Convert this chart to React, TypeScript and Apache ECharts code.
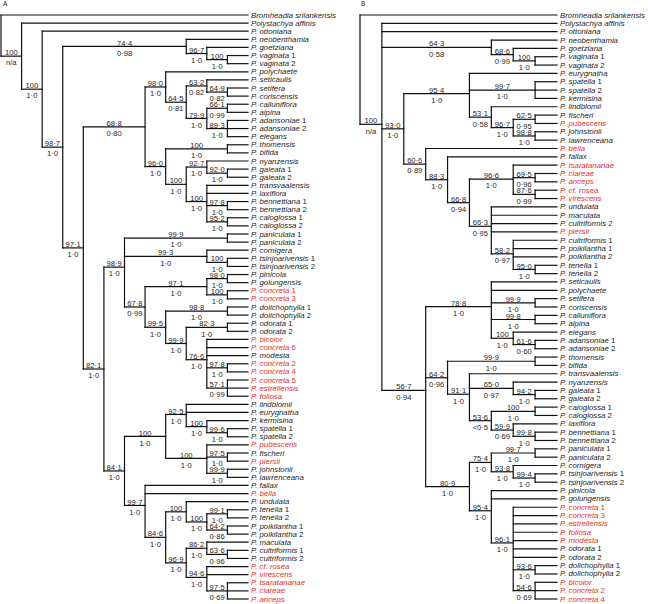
import React, { useEffect, useRef } from "react";
import * as echarts from "echarts";

// ---- DATA ----
// Tree A topology (Newick-like), internal node labels = "support/posterior"
const treeA_A688 =
  "((P. polychaete,((P. seticaulis,(P. setifera,P. coriscensis)64·9/0·82)63·2/0·82,((P. calluniflora,P. alpina)66·1/0·99,(P. adansoniae 1,P. adansoniae 2,P. elegans)89·3/1·0)79·9/1·0)64·5/0·81)98·0/1·0,((P. thomensis,P. bifida)100/1·0,((P. nyanzensis,(P. galeata 1,P. galeata 2)92·0/1·0)92·7/1·0,(P. transvaalensis,P. laxiflora,(P. bennettiana 1,P. bennettiana 2)97·8/1·0,(P. caloglossa 1,P. caloglossa 2)95·2/1·0)100/1·0)100/1·0)96·0/1·0)68·8/0·80";
const treeA_A989 =
  "((P. paniculata 1,P. paniculata 2)99·9/1·0,(P. cornigera,(P. tsinjoarivensis 1,P. tsinjoarivensis 2)100/1·0)99·3/1·0,(((P. pinicola,P. golungensis)98·0/1·0,(P. concreta 1,P. concreta 3)100/1·0)97·1/1·0,((P. dolichophylla 1,P. dolichophylla 2)98·8/1·0,((P. odorata 1,P. odorata 2)82·3/1·0,(P. bicolor,P. concreta 6,P. modesta,(P. concreta 2,P. concreta 4)97·8/1·0,(P. concreta 5,P. estrellensis,P. foliosa)57·1/0·99)76·6/1·0)99·9/1·0)99·5/1·0)67·8/0·99)98·9/1·0";
const treeA_A841 =
  "(((P. lindblomii,P. eurygnatha,(P. kermisina,(P. spatella 1,P. spatella 2)99·6/1·0)100/1·0)92·5/1·0,(P. pubescens,(P. fischeri,P. piersii)97·5/1·0,(P. johnstonii,P. lawrenceana)99·9/1·0)100/1·0)100/1·0,(P. fallax,P. bella,((P. undulata,((P. tenella 1,P. tenella 2)99·1/1·0,(P. poikilantha 1,P. poikilantha 2)64·2/0·86)100/1·0)100/1·0,((P. maculata,(P. cultriformis 1,P. cultriformis 2)63·6/0·96)86·2/1·0,(P. cf. rosea,P. virescens,(P. tsaratananae,P. clareae,P. anceps)97·5/0·69)94·6/1·0)96·9/1·0)84·6/1·0)99·7/1·0)84·1/1·0";
const treeA =
  "(Bromheadia srilankensis,(Polystachya affinis,(P. ottoniana,((P. neobenthamia,(P. goetziana,(P. vaginata 1,P. vaginata 2)100/1·0)96·7/1·0)74·4/0·98,(" +
  treeA_A688 +
  ",(" +
  treeA_A989 +
  "," +
  treeA_A841 +
  ")82·1/1·0)97·1/1·0)98·7/1·0)100/1·0)100/n/a)";

// Tree B topology
const treeB_B954 =
  "(P. eurygnatha,(P. spatella 1,P. spatella 2,P. kermisina)99·7/1·0,(P. lindblomii,((P. fischeri,P. pubescens)62·5/0·95,(P. johnstonii,P. lawrenceana)98·8/1·0)96·7/1·0)53·1/0·58)95·4/1·0";
const treeB_B606 =
  "(P. bella,(P. fallax,((P. tsaratananae,(P. clareae,P. anceps)69·5/0·96,(P. cf. rosea,P. virescens)87·6/0·99)96·6/1·0,(P. undulata,P. maculata,P. cultriformis 2,P. piersii,(P. cultriformis 1,P. poikilantha 1,P. poikilantha 2,(P. tenella 1,P. tenella 2)95·0/1·0)58·2/0·97)66·3/0·95)66·8/0·94)88·3/1·0)60·6/0·89";
const treeB_B567 =
  "((P. seticaulis,P. polychaete,(P. setifera,P. coriscensis)99·9/1·0,(P. calluniflora,P. alpina)99·8/1·0,(P. elegans,(P. adansoniae 1,P. adansoniae 2)61·6/0·60)100/1·0)78·8/1·0,((P. thomensis,P. bifida)99·9/1·0,(P. transvaalensis,(P. nyanzensis,(P. galeata 1,P. galeata 2)94·2/1·0)65·0/0·97,((P. caloglossa 1,P. caloglossa 2)100/1·0,(P. laxiflora,(P. bennettiana 1,P. bennettiana 2)99·8/1·0)59·9/0·69)53·6/<0·5)91·1/1·0)64·2/0·96,(((P. paniculata 1,P. paniculata 2)99·7/1·0,(P. cornigera,(P. tsinjoarivensis 1,P. tsinjoarivensis 2)99·4/1·0)93·8/1·0)75·4/1·0,(P. pinicola,P. golungensis,(P. concreta 1,P. concreta 3,P. estrellensis,P. foliosa,P. modesta,P. odorata 1,P. odorata 2,(P. dolichophylla 1,P. dolichophylla 2)93·6/1·0,(P. bicolor,P. concreta 2,P. concreta 4)54·6/0·69)96·1/1·0)95·4/1·0)80·9/1·0)56·7/0·94";
const treeB =
  "(Bromheadia srilankensis,(Polystachya affinis,P. ottoniana,(P. neobenthamia,(P. goetziana,(P. vaginata 1,P. vaginata 2)100/1·0)68·6/0·99)64·3/0·58,(" +
  treeB_B954 +
  "," +
  treeB_B606 +
  ")93·0/1·0," +
  treeB_B567 +
  ")100/n/a)";

const redA = [
  "P. concreta 1", "P. concreta 3", "P. bicolor", "P. concreta 6", "P. concreta 2",
  "P. concreta 4", "P. concreta 5", "P. estrellensis", "P. foliosa", "P. pubescens",
  "P. piersii", "P. bella", "P. cf. rosea", "P. virescens", "P. tsaratananae",
  "P. clareae", "P. anceps",
];
const redB = [
  "P. pubescens", "P. bella", "P. tsaratananae", "P. clareae", "P. anceps",
  "P. cf. rosea", "P. virescens", "P. piersii", "P. concreta 1", "P. concreta 3",
  "P. estrellensis", "P. foliosa", "P. modesta", "P. bicolor", "P. concreta 2",
  "P. concreta 4",
];
const panelLabels = ["A", "B"];

// ---- STYLE ----
const FONT = "'Liberation Sans', Arial, Helvetica, sans-serif";
const FS = 7.8;
const NFS = 7.6;
const LINE = "#111111";
const TXT = "#1e1e1e";
const RED = "#e6302d";

type TNode = {
  name: string;
  label: string;
  children: TNode[];
  parent?: TNode;
  x: number;
  y: number;
  h: number;
};

function parseTree(s: string): TNode {
  let i = 0;
  const readName = () => {
    const st = i;
    while (i < s.length && ",()".indexOf(s[i]) < 0) i++;
    return s.slice(st, i).trim();
  };
  const node = (): TNode => {
    if (s[i] === "(") {
      i++;
      const children: TNode[] = [node()];
      while (s[i] === ",") {
        i++;
        children.push(node());
      }
      i++;
      const label = readName();
      const n: TNode = { name: "", label, children, x: 0, y: 0, h: 0 };
      children.forEach((c) => (c.parent = n));
      return n;
    }
    return { name: readName(), label: "", children: [], x: 0, y: 0, h: 0 };
  };
  return node();
}

function layoutTree(root: TNode) {
  const nodes: TNode[] = [];
  let leaf = 0;
  const rec = (n: TNode) => {
    nodes.push(n);
    if (!n.children.length) {
      n.y = leaf++;
      n.h = 0;
    } else {
      n.children.forEach(rec);
      n.y = n.children.reduce((a, c) => a + c.y, 0) / n.children.length;
      n.h = Math.max(...n.children.map((c) => c.h)) + 1;
    }
  };
  rec(root);
  nodes.forEach((n) => (n.x = root.h - n.h));
  return { nodes, H: root.h, nLeaves: leaf };
}

function leafRich(name: string, color: string) {
  const m = name.match(/^(.*) (\d+)$/);
  const base = { fontSize: FS, fontFamily: FONT, fill: color, lineHeight: 7 };
  if (m) {
    return {
      text: `{i|${m[1]}}{n| ${m[2]}}`,
      rich: {
        i: { ...base, fontStyle: "italic" },
        n: { ...base, fontStyle: "normal" },
      },
    };
  }
  return {
    text: `{i|${name}}`,
    rich: { i: { ...base, fontStyle: "italic" } },
  };
}

function makeSeries(treeStr: string, reds: string[], gridIndex: number) {
  const root = parseTree(treeStr);
  const { nodes, H, nLeaves } = layoutTree(root);
  const data = nodes.map((n) => [
    n.x,
    n.y,
    n.parent ? n.parent.x : n.x,
    n.children.length ? n.children[0].y : n.y,
    n.children.length ? n.children[n.children.length - 1].y : n.y,
  ]);
  const lineStyle = { stroke: LINE, lineWidth: 1.2, lineCap: "square" as const };
  const nodeText = (text: string) => ({
    text,
    fontSize: NFS,
    fontFamily: FONT,
    fill: TXT,
    lineHeight: 5.6,
    align: "center",
    verticalAlign: "middle",
  });
  const series = {
    type: "custom",
    xAxisIndex: gridIndex,
    yAxisIndex: gridIndex,
    silent: true,
    encode: { x: [0, 2], y: [1, 3, 4] },
    data,
    renderItem: (params: any, api: any) => {
      const n = nodes[params.dataIndex];
      const x = api.value(0);
      const y = api.value(1);
      const px = api.value(2);
      const p = api.coord([x, y]);
      const els: any[] = [];
      if (n.parent) {
        const pp = api.coord([px, y]);
        els.push({
          type: "line",
          shape: { x1: pp[0], y1: pp[1], x2: p[0], y2: p[1] },
          style: lineStyle,
        });
        if (n.label) {
          const k = n.label.indexOf("/");
          const up = n.label.slice(0, k);
          const low = n.label.slice(k + 1);
          const cx = (pp[0] + p[0]) / 2;
          els.push({ type: "text", x: cx, y: p[1] - 3.4, style: nodeText(up) });
          els.push({ type: "text", x: cx, y: p[1] + 6.8, style: nodeText(low) });
        }
      }
      if (n.children.length) {
        const a = api.coord([x, api.value(3)]);
        const b = api.coord([x, api.value(4)]);
        els.push({
          type: "line",
          shape: { x1: a[0], y1: a[1], x2: b[0], y2: b[1] },
          style: lineStyle,
        });
      } else {
        const color = reds.indexOf(n.name) >= 0 ? RED : TXT;
        els.push({
          type: "text",
          x: p[0] + 3,
          y: p[1],
          style: {
            ...leafRich(n.name, color),
            fontSize: FS,
            fontFamily: FONT,
            fill: color,
            align: "left",
            verticalAlign: "middle",
          },
        });
      }
      return { type: "group", children: els };
    },
  };
  return { series, H, nLeaves };
}

export default function App() {
  const ref = useRef<HTMLDivElement>(null);
  useEffect(() => {
    if (!ref.current) return;
    document.body.style.margin = "0";
    const chart = echarts.init(ref.current, undefined, { renderer: "svg" });
    const a = makeSeries(treeA, redA, 0);
    const b = makeSeries(treeB, redB, 1);
    chart.setOption({
      animation: false,
      backgroundColor: "#ffffff",
      title: [
        {
          text: panelLabels[0],
          left: 3,
          top: 0,
          padding: 0,
          textStyle: { fontSize: 6.5, fontWeight: "normal", fontFamily: FONT, color: TXT },
        },
        {
          text: panelLabels[1],
          left: 361,
          top: 0,
          padding: 0,
          textStyle: { fontSize: 6.5, fontWeight: "normal", fontFamily: FONT, color: TXT },
        },
      ],
      grid: [
        { left: 1, top: 15, width: 247, height: 584 },
        { left: 360, top: 15, width: 197, height: 584 },
      ],
      xAxis: [
        { type: "value", gridIndex: 0, min: 0, max: a.H, show: false },
        { type: "value", gridIndex: 1, min: 0, max: b.H, show: false },
      ],
      yAxis: [
        { type: "value", gridIndex: 0, min: 0, max: a.nLeaves - 1, inverse: true, show: false },
        { type: "value", gridIndex: 1, min: 0, max: b.nLeaves - 1, inverse: true, show: false },
      ],
      series: [a.series, b.series],
    });
    return () => chart.dispose();
  }, []);
  return (
    <div
      ref={ref}
      style={{ position: "absolute", left: 0, top: 0, width: 648, height: 604 }}
    />
  );
}
